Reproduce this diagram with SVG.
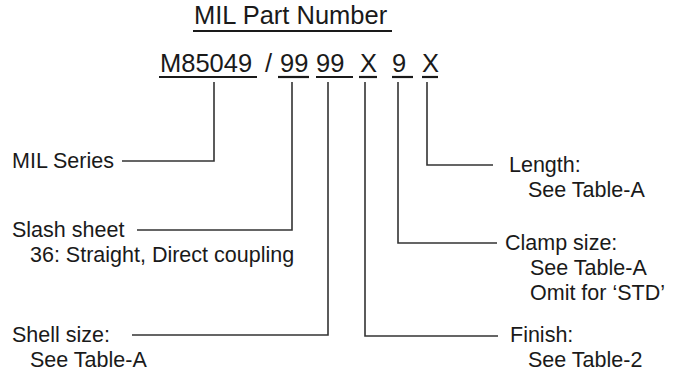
<svg xmlns="http://www.w3.org/2000/svg" width="678" height="373" viewBox="0 0 678 373">
  <style>
    text { font-family: "Liberation Sans", Arial, Helvetica, sans-serif; fill: #1a1a1a; }
    .lbl { font-size: 21.5px; }
    .pn { font-size: 25.5px; }
    .ttl { font-size: 25.5px; }
    .ul { stroke: #1a1a1a; stroke-width: 2.2; fill: none; }
    .con { stroke: #333; stroke-width: 1.6; fill: none; }
  </style>
  <rect width="678" height="373" fill="#ffffff"/>

  <g id="title">
    <text class="ttl" x="194" y="24">MIL Part Number</text>
    <line class="ul" x1="193" y1="31" x2="392" y2="31"/>
  </g>

  <g id="part-number">
    <text class="pn" x="160" y="72">M85049</text>
    <text class="pn" x="265" y="72">/</text>
    <text class="pn" x="280" y="72">99</text>
    <text class="pn" x="316" y="72">99</text>
    <text class="pn" x="360" y="72">X</text>
    <text class="pn" x="392" y="72">9</text>
    <text class="pn" x="422" y="72">X</text>
    <line class="ul" x1="159" y1="77" x2="257" y2="77"/>
    <line class="ul" x1="278" y1="77" x2="309" y2="77"/>
    <line class="ul" x1="316" y1="77" x2="353" y2="77"/>
    <line class="ul" x1="359" y1="77" x2="377" y2="77"/>
    <line class="ul" x1="392" y1="77" x2="413" y2="77"/>
    <line class="ul" x1="422" y1="77" x2="438" y2="77"/>
  </g>

  <g id="connectors">
    <polyline class="con" points="214,82 214,161 122,161"/>
    <polyline class="con" points="292,82 292,230 137,230"/>
    <polyline class="con" points="328,82 328,335 132,335"/>
    <polyline class="con" points="365,82 365,336 498,336"/>
    <polyline class="con" points="398,82 398,243 497,243"/>
    <polyline class="con" points="427,82 427,165 493,165"/>
  </g>

  <g id="mil-series">
    <text class="lbl" x="12" y="168">MIL Series</text>
  </g>
  <g id="slash-sheet">
    <text class="lbl" x="12" y="237">Slash sheet</text>
    <text class="lbl" x="30" y="262">36: Straight, Direct coupling</text>
  </g>
  <g id="shell-size">
    <text class="lbl" x="12" y="342">Shell size:</text>
    <text class="lbl" x="30" y="367">See Table-A</text>
  </g>
  <g id="length">
    <text class="lbl" x="509" y="172">Length:</text>
    <text class="lbl" x="528" y="197">See Table-A</text>
  </g>
  <g id="clamp-size">
    <text class="lbl" x="505" y="250">Clamp size:</text>
    <text class="lbl" x="530" y="275">See Table-A</text>
    <text class="lbl" x="530" y="300">Omit for ‘STD’</text>
  </g>
  <g id="finish">
    <text class="lbl" x="510" y="342">Finish:</text>
    <text class="lbl" x="528" y="367">See Table-2</text>
  </g>
</svg>
